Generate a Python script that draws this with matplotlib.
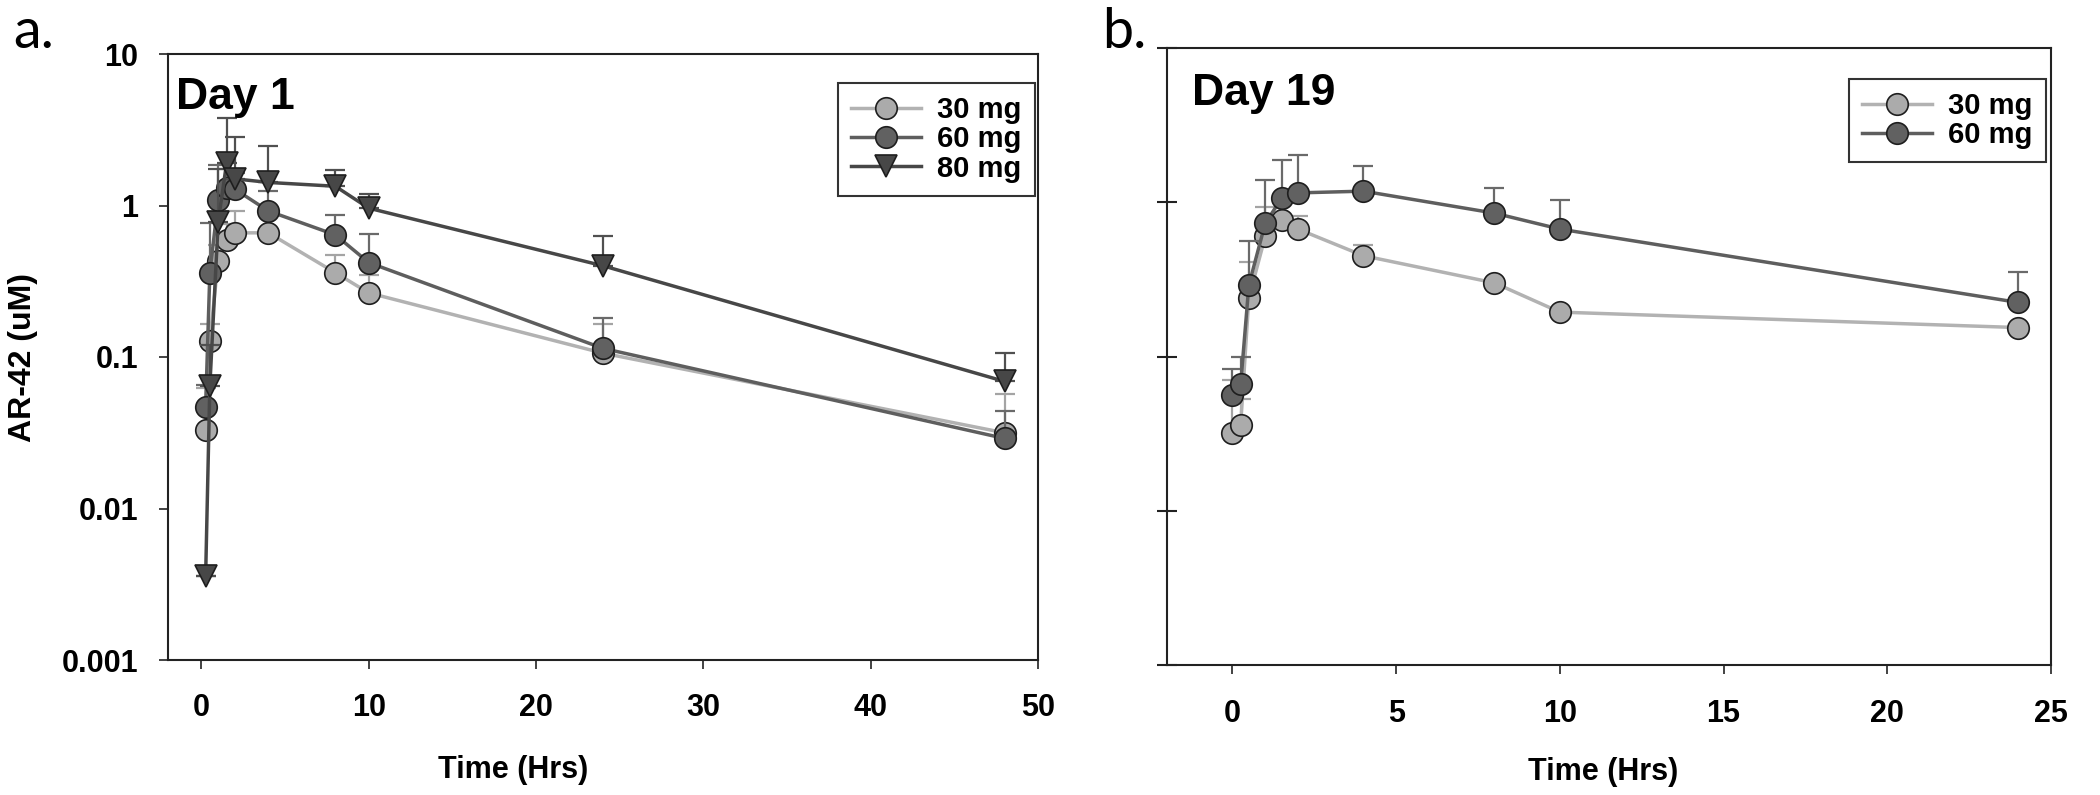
import numpy as np
import matplotlib
matplotlib.use("Agg")
import matplotlib.pyplot as plt
from matplotlib.ticker import FixedLocator, FixedFormatter, NullLocator

plt.rcParams['font.family'] = ['Liberation Sans', 'DejaVu Sans']

# Day 1 data (uM), upper error caps given as absolute values
t1 = [0.25, 0.5, 1, 1.5, 2, 4, 8, 10, 24, 48]
d1_30 = [0.033, 0.128, 0.43, 0.59, 0.66, 0.66, 0.36, 0.265, 0.106, 0.0316]
d1_60 = [0.047, 0.358, 1.08, 1.30, 1.28, 0.92, 0.64, 0.42, 0.114, 0.029]
d1_80 = [0.0036, 0.064, 0.78, 1.9, 1.5, 1.42, 1.34, 0.96, 0.40, 0.069]
d1_30_up = [0.062, 0.166, 0.55, 0.75, 0.925, 0.70, 0.47, 0.35, 0.165, 0.057]
d1_60_up = [0.065, 0.77, 1.85, 1.75, 1.65, 1.25, 0.86, 0.65, 0.18, 0.044]
d1_80_up = [0.0036, 0.12, 1.75, 3.8, 2.85, 2.47, 1.71, 1.19, 0.63, 0.107]

# Day 19 data
t19 = [0, 0.25, 0.5, 1, 1.5, 2, 4, 8, 10, 24]
d19_30 = [0.032, 0.036, 0.24, 0.60, 0.77, 0.67, 0.45, 0.30, 0.194, 0.154]
d19_60 = [0.056, 0.066, 0.29, 0.73, 1.06, 1.15, 1.18, 0.85, 0.67, 0.224]
d19_30_up = [0.07, 0.053, 0.41, 0.93, 1.0, 0.81, 0.53, 0.30, 0.194, 0.154]
d19_60_up = [0.083, 0.10, 0.56, 1.39, 1.89, 2.02, 1.71, 1.24, 1.04, 0.353]

yticks = [0.001, 0.01, 0.1, 1, 10]
ylabels = ['0.001', '0.01', '0.1', '1', '10']

styles = {
    '30 mg': dict(marker='o', line='#b2b2b2', fill='#ababab', err='#a4a4a4'),
    '60 mg': dict(marker='o', line='#5e5e5e', fill='#616161', err='#6a6a6a'),
    '80 mg': dict(marker='v', line='#474747', fill='#474747', err='#505050'),
}

fig = plt.figure(figsize=(21, 7.95), dpi=100)
ax1 = fig.add_axes([168 / 2100, 135 / 795, 870 / 2100, 606 / 795])
ax2 = fig.add_axes([1167 / 2100, 130 / 795, 884 / 2100, 617 / 795])


def series(ax, t, v, up, name):
    s = styles[name]
    v = np.array(v)
    up = np.array(up)
    ax.errorbar(t, v, yerr=[np.zeros_like(v), up - v], fmt='none',
                ecolor=s['err'], elinewidth=1.6, capsize=7, capthick=1.6)
    ax.plot(t, v, marker=s['marker'], color=s['line'], lw=2.5, ms=15.5,
            mfc=s['fill'], mec='#1e1e1e', mew=1.2, label=name)


series(ax1, t1, d1_30, d1_30_up, '30 mg')
series(ax1, t1, d1_60, d1_60_up, '60 mg')
series(ax1, t1, d1_80, d1_80_up, '80 mg')
series(ax2, t19, d19_30, d19_30_up, '30 mg')
series(ax2, t19, d19_60, d19_60_up, '60 mg')

for ax in (ax1, ax2):
    ax.set_yscale('log')
    ax.set_ylim(0.001, 10)
    ax.yaxis.set_major_locator(FixedLocator(yticks))
    ax.yaxis.set_minor_locator(NullLocator())
    for sp in ax.spines.values():
        sp.set_color('#222222')
        sp.set_linewidth(1.5)
    ax.tick_params(axis='x', direction='out', length=6.5, width=1.2,
                   color='#222222', labelsize=22)
    ax.legend(loc='upper right', frameon=True, fancybox=False,
              edgecolor='#333333', framealpha=1, borderpad=0.45,
              labelspacing=0.04, handlelength=2.4, handletextpad=0.55,
              borderaxespad=0, prop={'weight': 'bold', 'size': 21})

ax1.legend_.set_bbox_to_anchor((0.9965, 0.952), transform=ax1.transAxes)
ax2.legend_.set_bbox_to_anchor((0.9943, 0.95), transform=ax2.transAxes)
for ax in (ax1, ax2):
    ax.legend_.get_frame().set_linewidth(1.5)

ax1.set_xlim(-2, 50)
ax1.set_xticks([0, 10, 20, 30, 40, 50])
ax1.yaxis.set_major_formatter(FixedFormatter(ylabels))
ax1.tick_params(axis='y', direction='out', length=6.5, width=1.2,
                color='#222222', labelsize=22, pad=15)
ax1.tick_params(axis='x', pad=17)

ax2.set_xlim(-2, 25)
ax2.set_xticks([0, 5, 10, 15, 20, 25])
ax2.tick_params(axis='y', direction='inout', length=15, width=1.5,
                color='#222222', labelleft=False)
ax2.tick_params(axis='x', pad=18)

for ax in (ax1, ax2):
    for lab in ax.get_xticklabels() + ax.get_yticklabels():
        lab.set_fontweight('bold')

ax1.text(0.009, 0.962, 'Day 1', transform=ax1.transAxes, fontsize=32,
         fontweight='bold', ha='left', va='top')
ax2.text(0.028, 0.96, 'Day 19', transform=ax2.transAxes, fontsize=32,
         fontweight='bold', ha='left', va='top')

fig.text(513 / 2100, 1 - 770 / 795, 'Time (Hrs)', fontsize=22,
         fontweight='bold', ha='center', va='center')
fig.text(1603 / 2100, 1 - 772 / 795, 'Time (Hrs)', fontsize=22,
         fontweight='bold', ha='center', va='center')
fig.text(23 / 2100, 1 - 358 / 795, 'AR-42 (uM)', fontsize=23,
         fontweight='bold', ha='center', va='center', rotation=90)

fig.text(13 / 2100, 1 - 48 / 795, 'a.', fontsize=40, family='Lato',
         ha='left', va='baseline')
fig.text(1102 / 2100, 1 - 48 / 795, 'b.', fontsize=40, family='Lato',
         ha='left', va='baseline')

fig.savefig('out.png', dpi=100)
